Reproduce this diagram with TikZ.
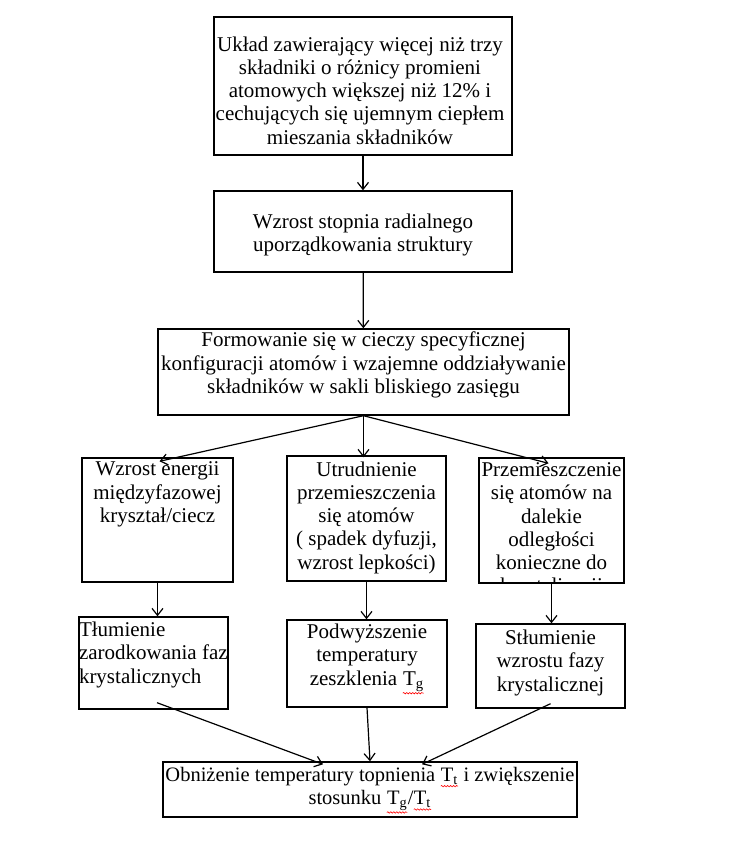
\documentclass[tikz,border=0pt]{standalone}
\usepackage{fontspec}
\setmainfont{Liberation Serif}
\usetikzlibrary{arrows.meta,decorations.pathmorphing}
\newcommand\blad[1]{\tikz[baseline=(w.base)]{\node[inner sep=0pt, anchor=base, align=left] (w) at (0,0) {#1};
	\draw[red, line width=0.6pt, decorate, decoration={snake, amplitude=0.7pt, segment length=3pt}] ([yshift=-1.5pt]w.south west) -- ([yshift=-1.5pt]w.south east);}}

\begin{document}
\begin{tikzpicture}[x=1pt,y=-1pt,
	blok/.style={draw, line width=1.4pt, inner sep=0pt},
	opis/.style={inner sep=0pt, align=center, anchor=north, font=\fontsize{21}{23.3}\selectfont},
	strz/.style={line width=1.2pt, -{Straight Barb[length=7pt,width=11pt]}}]
	%%%%% START %%%%%
	\useasboundingbox (0,0) rectangle (728,845);
	
	% ramki
	\node[blok, minimum width=298pt, minimum height=138pt] (uklad) at (363,86) {};
	\node[blok, minimum width=298pt, minimum height=81pt] (wzrost) at (363,231.5) {};
	\node[blok, minimum width=411pt, minimum height=86pt] (formowanie) at (363.5,372) {};
	
	\node[blok, minimum width=151pt, minimum height=124pt] (energia) at (157.5,520) {};
	\node[blok, minimum width=159pt, minimum height=125pt] (utrudnienie) at (366.5,518.5) {};
	\node[blok, minimum width=145pt, minimum height=125pt] (przemieszczenie) at (551.5,520.5) {};
	
	\node[blok, minimum width=149pt, minimum height=92pt] (tlumienie) at (153.5,663) {};
	\node[blok, minimum width=160pt, minimum height=87pt] (podwyzszenie) at (367,663.5) {};
	\node[blok, minimum width=149pt, minimum height=84pt] (stlumienie) at (550.5,666) {};
	
	\node[blok, minimum width=414pt, minimum height=55pt] (obnizenie) at (370,789.5) {};
	
	% teksty
	\node[opis] (t_uklad) at ([xshift=-3pt,yshift=-20pt]uklad.north) {Układ zawierający więcej niż trzy\\składniki o różnicy promieni\\atomowych większej niż 12\% i\\cechujących się ujemnym ciepłem\\mieszania składników};
	\node[opis] (t_wzrost) at ([yshift=-23pt]wzrost.north) {Wzrost stopnia radialnego\\uporządkowania struktury};
	\node[opis] (t_formowanie) at ([yshift=-3.5pt]formowanie.north) {Formowanie się w cieczy specyficznej\\konfiguracji atomów i wzajemne oddziaływanie\\składników w sakli bliskiego zasięgu};
	
	\node[opis] (t_energia) at ([yshift=-4.5pt]energia.north) {Wzrost energii\\międzyfazowej\\kryształ/ciecz};
	\node[opis] (t_utrudnienie) at ([yshift=-6pt]utrudnienie.north) {Utrudnienie\\przemieszczenia\\się atomów\\( spadek dyfuzji,\\wzrost lepkości)};
	\begin{scope}
		\clip (przemieszczenie.north west) rectangle (przemieszczenie.south east);
		\node[opis] (t_przemieszczenie) at ([yshift=-5pt]przemieszczenie.north) {Przemieszczenie\\się atomów na\\dalekie\\odległości\\konieczne do\\krystalizacji};
	\end{scope}
	
	\node[opis, align=left, anchor=north west] (t_tlumienie) at ([xshift=0.5pt,yshift=-5.5pt]tlumienie.north west) {Tłumienie\\zarodkowania faz\\krystalicznych};
	\node[opis] (t_podwyzszenie) at ([yshift=-4.5pt]podwyzszenie.north) {Podwyższenie\\temperatury\\zeszklenia \blad{T\textsubscript{g}}};
	\node[opis] (t_stlumienie) at ([yshift=-6.5pt]stlumienie.north) {Stłumienie\\wzrostu fazy\\krystalicznej};
	
	\node[opis, font=\fontsize{20.5}{23.3}\selectfont] (t_obnizenie) at ([yshift=-5.5pt]obnizenie.north) {Obniżenie temperatury topnienia \blad{T\textsubscript{t}} i zwiększenie\\stosunku \blad{T\textsubscript{g}}/\blad{T\textsubscript{t}}};
	
	% strzalki
	\draw[strz] (uklad) -- (wzrost);
	\draw[strz] (wzrost) -- (formowanie);
	
	\draw[strz] (formowanie.south) -- ([xshift=2pt,yshift=-4pt]energia.north);
	\draw[strz] (formowanie.south) -- ([yshift=-2pt]formowanie.south |- utrudnienie.north);
	\draw[strz] (formowanie.south) -- ([xshift=-3pt,yshift=-6pt]przemieszczenie.north);
	
	\draw[strz] (energia.south) -- (energia.south |- tlumienie.north);
	\draw[strz] (utrudnienie.south) -- (utrudnienie.south |- podwyzszenie.north);
	\draw[strz] (przemieszczenie.south) -- (przemieszczenie.south |- stlumienie.north);
	
	\draw[strz] ([xshift=3.5pt,yshift=7pt]tlumienie.south) -- ([xshift=-47pt,yshift=-3pt]obnizenie.north);
	\draw[strz] (podwyzszenie.south) -- (obnizenie.north);
	\draw[strz] ([yshift=5pt]stlumienie.south) -- ([xshift=52pt,yshift=-3pt]obnizenie.north);
	%%%%% END %%%%%
\end{tikzpicture}
\end{document}
